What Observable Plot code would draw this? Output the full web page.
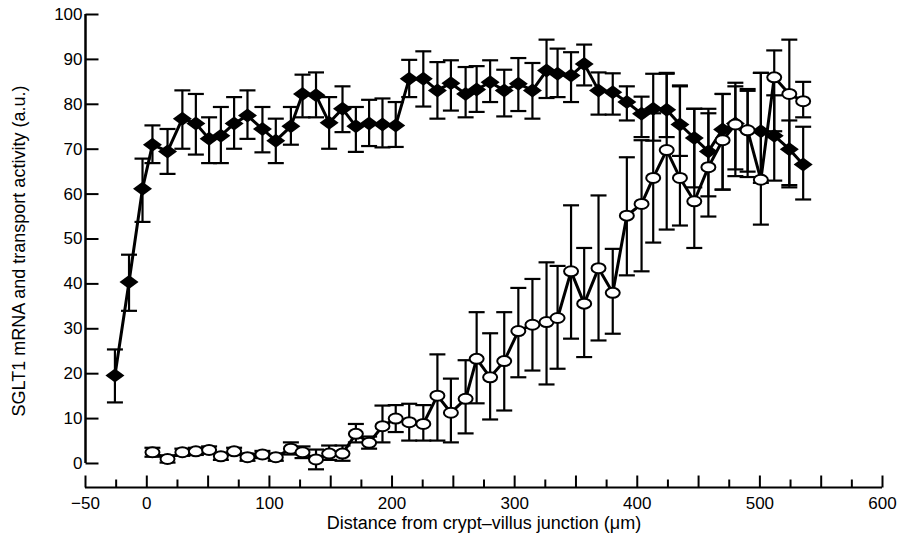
<!DOCTYPE html>
<html><head><meta charset="utf-8">
<script src="https://cdn.jsdelivr.net/npm/d3@7"></script>
<script src="https://cdn.jsdelivr.net/npm/@observablehq/plot@0.6"></script>
<style>body{margin:0;background:#fff;}</style>
</head><body><div id="chart"></div>
<script>
// Transport activity (filled diamonds)
const transportX = [-26, -14.5, -3.5, 4.6, 16.9, 29, 40, 50.8, 60.4, 71.2, 82.1, 94.3, 105.2, 117.5, 127, 138, 148.7, 159.6, 170.5, 181.3, 192.2, 203, 214, 225.5, 237, 248, 260, 269, 280, 291.5, 303, 314.5, 326, 335, 346, 356.7, 368.4, 380, 391.5, 403.5, 413, 424, 434.8, 446.5, 458, 469.6, 480, 490, 500.8, 511.7, 524, 535.3];
const transportY = [19.6, 40.4, 61.2, 71.0, 69.5, 76.8, 75.7, 72.3, 73.0, 75.7, 77.5, 74.5, 71.9, 75.1, 82.3, 82.0, 75.9, 79.0, 75.1, 75.7, 75.5, 75.3, 85.7, 85.7, 83.1, 84.7, 82.3, 83.3, 84.9, 83.1, 84.6, 83.1, 87.5, 86.8, 86.4, 89.0, 83.1, 82.7, 80.5, 77.9, 79.0, 78.8, 75.5, 72.5, 69.5, 74.4, 75.7, 74.2, 74.0, 73.0, 70.0, 66.6];
const transportLo = [13.6, 34, 53.8, 66.9, 64.5, 70.1, 68.8, 66.9, 66.9, 70.1, 72.3, 69.3, 66.9, 71.0, 77.1, 77.1, 70.1, 73.8, 69.4, 70.7, 70.4, 70.5, 81.6, 79.5, 76.8, 78.6, 77.1, 78.3, 80.5, 77.3, 78.5, 76.8, 81.4, 81.6, 80.5, 84.2, 77.7, 77.7, 76.4, 72.7, 71.9, 72.7, 68.5, 61.5, 59.5, 61.0, 65.5, 63.8, 62.5, 63.0, 62.0, 58.8];
const transportHi = [25.4, 46.5, 67.9, 75.3, 74.5, 83.1, 82.3, 77.1, 79.4, 81.6, 83.1, 79.4, 76.8, 79.4, 86.6, 87.1, 81.6, 84.0, 79.4, 81.0, 81.3, 80.5, 89.9, 91.8, 89.4, 89.8, 88.3, 88.5, 89.8, 87.7, 90.3, 89.2, 94.4, 92.4, 91.6, 93.3, 87.1, 86.9, 84.0, 81.7, 86.8, 86.8, 84.0, 79.0, 79.0, 82.3, 84.8, 83.4, 87.0, 82.0, 76.4, 75.0];

// mRNA (open ellipses)
const mrnaX = [4.6, 16.9, 29, 40, 50.8, 60.4, 71.2, 82.1, 94.3, 105.2, 117.5, 127, 138, 148.7, 159.6, 170.5, 181.3, 192.2, 203, 214, 225.5, 237, 248, 260, 269, 280, 291.5, 303, 314.5, 326, 335, 346, 356.7, 368.4, 380, 391.5, 403.5, 413, 424, 434.8, 446.5, 458, 469.6, 480, 490, 500.8, 511.7, 524, 535.3];
const mrnaY = [2.5, 1.0, 2.5, 2.7, 3.0, 1.6, 2.7, 1.4, 2.0, 1.4, 3.3, 2.5, 0.9, 2.2, 2.2, 6.6, 4.6, 8.3, 10.0, 9.2, 8.8, 15.1, 11.3, 14.4, 23.3, 19.2, 22.8, 29.5, 30.9, 31.5, 32.4, 42.8, 35.6, 43.5, 38.0, 55.2, 57.8, 63.6, 69.8, 63.6, 58.4, 66.0, 72.0, 75.5, 74.2, 63.2, 86.0, 82.3, 80.7];
const mrnaLo = [1.5, 0.2, 1.7, 1.9, 2.2, 0.8, 1.9, 0.6, 1.2, 0.6, 2.0, 1.2, -1.3, 0.8, 0.6, 4.7, 3.3, 4.7, 7.0, 5.1, 5.1, 5.1, 4.7, 6.7, 13.4, 9.8, 11.8, 19.2, 20.7, 17.6, 21.1, 27.8, 23.7, 27.4, 28.9, 41.9, 42.8, 49.2, 52.1, 53.0, 48.0, 55.0, 61.0, 64.0, 65.0, 53.2, 74.0, 61.5, 77.1];
const mrnaHi = [3.5, 1.8, 3.3, 3.5, 3.8, 2.4, 3.5, 2.2, 2.8, 2.2, 4.7, 3.8, 3.1, 4.0, 4.0, 8.8, 6.0, 12.9, 13.0, 13.3, 13.0, 24.3, 18.9, 23.0, 33.7, 29.0, 33.7, 39.1, 41.1, 44.8, 44.0, 57.5, 48.0, 59.7, 47.8, 68.2, 72.0, 78.0, 87.0, 84.2, 79.0, 78.0, 82.3, 84.0, 83.0, 87.0, 92.0, 94.4, 85.0];

// Axes
const xTickLabels = [-50, 0, 100, 200, 300, 400, 500, 600];
const xMajorTicks = [-50, 0, 50, 100, 150, 200, 250, 300, 350, 400, 450, 500, 550, 600];
const xMinorTicks = [-25, 25, 75, 125, 175, 225, 275, 325, 375, 425, 475, 525, 575];
const yTicks = [0, 10, 20, 30, 40, 50, 60, 70, 80, 90, 100];
const xDomain = [-50, 600];
const yDomain = [-5.35, 100];
const xTitle = "Distance from crypt\u2013villus junction (\u03bcm)";
const yTitle = "SGLT1 mRNA and transport activity (a.u.)";

const transport = transportX.map((x, i) => ({x, y: transportY[i], lo: transportLo[i], hi: transportHi[i]}));
const mrna = mrnaX.map((x, i) => ({x, y: mrnaY[i], lo: mrnaLo[i], hi: mrnaHi[i]}));

const diamond = {draw(c) { c.moveTo(-9.5, 0); c.lineTo(0, -7); c.lineTo(9.5, 0); c.lineTo(0, 7); c.closePath(); }};
const ellipse = {draw(c) {
  const rx = 7, ry = 5, k = 0.5523;
  c.moveTo(rx, 0);
  c.bezierCurveTo(rx, ry * k, rx * k, ry, 0, ry);
  c.bezierCurveTo(-rx * k, ry, -rx, ry * k, -rx, 0);
  c.bezierCurveTo(-rx, -ry * k, -rx * k, -ry, 0, -ry);
  c.bezierCurveTo(rx * k, -ry, rx, -ry * k, rx, 0);
  c.closePath();
}};
const cap = {draw(c) { c.moveTo(-8, 0); c.lineTo(8, 0); }};
const yTickSym = {draw(c) { c.moveTo(0, 0); c.lineTo(13, 0); }};
const xMajorSym = {draw(c) { c.moveTo(0, 0); c.lineTo(0, -12); }};
const xMinorSym = {draw(c) { c.moveTo(0, 0); c.lineTo(0, -8); }};

function errorMarks(data) {
  return [
    Plot.ruleX(data, {x: "x", y1: "lo", y2: "hi", stroke: "black", strokeWidth: 2.2}),
    Plot.dot(data, {x: "x", y: "lo", symbol: cap, stroke: "black", strokeWidth: 2.2, fill: "none"}),
    Plot.dot(data, {x: "x", y: "hi", symbol: cap, stroke: "black", strokeWidth: 2.2, fill: "none"})
  ];
}

const chart = Plot.plot({
  width: 900,
  height: 540,
  marginLeft: 85,
  marginRight: 18,
  marginTop: 14,
  marginBottom: 53,
  style: {fontFamily: "'Liberation Sans', Arial, sans-serif", fontSize: "17px", color: "black", background: "white", overflow: "visible"},
  x: {domain: xDomain},
  y: {domain: yDomain},
  marks: [
    // axis lines
    Plot.ruleX([xDomain[0]], {y1: 0, y2: 100, stroke: "black", strokeWidth: 2.5}),
    Plot.ruleY([yDomain[0]], {x1: xDomain[0], x2: xDomain[1], stroke: "black", strokeWidth: 2.2}),
    // ticks (inward)
    Plot.dot(yTicks, {x: xDomain[0], y: d => d, symbol: yTickSym, stroke: "black", strokeWidth: 2, fill: "none"}),
    Plot.dot(xMajorTicks, {x: d => d, y: yDomain[0], symbol: xMajorSym, stroke: "black", strokeWidth: 2, fill: "none"}),
    Plot.dot(xMinorTicks, {x: d => d, y: yDomain[0], symbol: xMinorSym, stroke: "black", strokeWidth: 2, fill: "none"}),
    // tick labels
    Plot.axisY({ticks: yTicks, tickSize: 0, tickPadding: 3, label: null}),
    Plot.axisX({ticks: xTickLabels, tickSize: 0, tickPadding: 9, label: null}),
    // titles
    Plot.text([xTitle], {text: d => d, frameAnchor: "bottom", textAnchor: "middle", lineAnchor: "middle", dy: 36, fontSize: 18}),
    Plot.text([yTitle], {text: d => d, frameAnchor: "left", textAnchor: "middle", lineAnchor: "middle", rotate: -90, dx: -66, dy: 0, fontSize: 18}),
    // transport series
    ...errorMarks(transport),
    Plot.line(transport, {x: "x", y: "y", stroke: "black", strokeWidth: 3}),
    Plot.dot(transport, {x: "x", y: "y", symbol: diamond, fill: "black", stroke: "none"}),
    // mRNA series
    ...errorMarks(mrna),
    Plot.line(mrna, {x: "x", y: "y", stroke: "black", strokeWidth: 3}),
    Plot.dot(mrna, {x: "x", y: "y", symbol: ellipse, fill: "white", stroke: "black", strokeWidth: 2})
  ]
});
document.getElementById("chart").appendChild(chart);
</script>
</body></html>
